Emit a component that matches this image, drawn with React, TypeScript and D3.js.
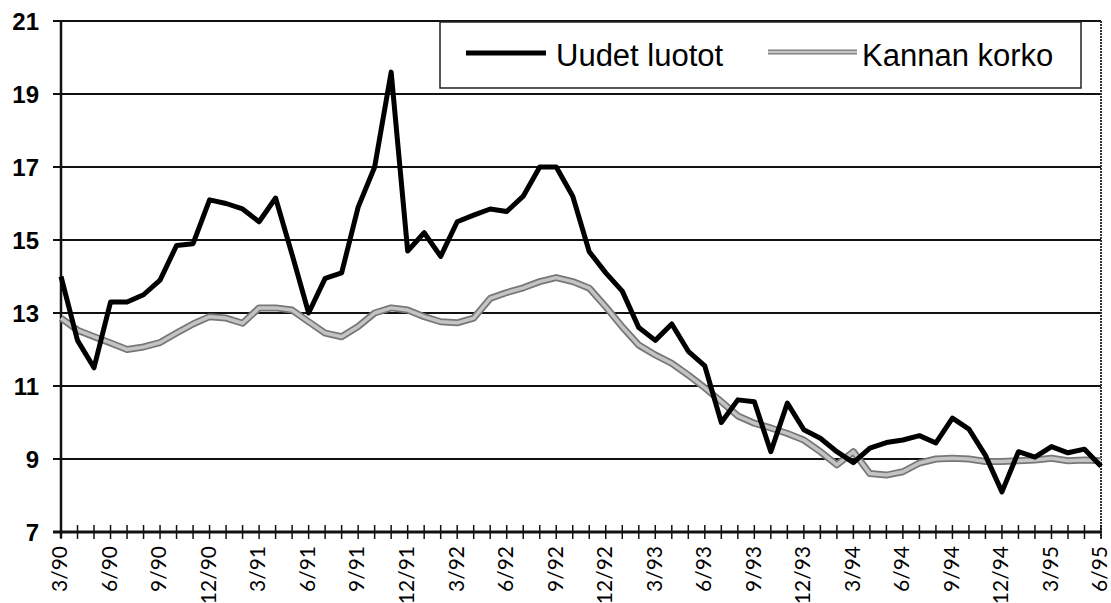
import React, { useRef, useEffect } from "react";
import * as d3 from "d3";

// months 3/90 .. 6/95
const months = [
  "3/90", "4/90", "5/90", "6/90", "7/90", "8/90", "9/90", "10/90", "11/90", "12/90",
  "1/91", "2/91", "3/91", "4/91", "5/91", "6/91", "7/91", "8/91", "9/91", "10/91", "11/91", "12/91",
  "1/92", "2/92", "3/92", "4/92", "5/92", "6/92", "7/92", "8/92", "9/92", "10/92", "11/92", "12/92",
  "1/93", "2/93", "3/93", "4/93", "5/93", "6/93", "7/93", "8/93", "9/93", "10/93", "11/93", "12/93",
  "1/94", "2/94", "3/94", "4/94", "5/94", "6/94", "7/94", "8/94", "9/94", "10/94", "11/94", "12/94",
  "1/95", "2/95", "3/95", "4/95", "5/95", "6/95",
];

const uudetLuotot = [
  14.0, 12.25, 11.5, 13.3, 13.3, 13.5, 13.9, 14.85, 14.9, 16.1,
  16.0, 15.85, 15.5, 16.15, 14.6, 13.0, 13.95, 14.1, 15.9, 17.0, 19.6, 14.7,
  15.2, 14.55, 15.5, 15.68, 15.85, 15.78, 16.2, 17.0, 17.0, 16.2, 14.68, 14.1,
  13.6, 12.6, 12.25, 12.7, 11.95, 11.55, 10.0, 10.62, 10.57, 9.2, 10.53, 9.8,
  9.57, 9.2, 8.9, 9.3, 9.45, 9.52, 9.64, 9.44, 10.12, 9.82, 9.1, 8.1,
  9.2, 9.05, 9.34, 9.17, 9.27, 8.8,
];

const kannanKorko = [
  12.86, 12.53, 12.35, 12.18, 12.0, 12.07, 12.19, 12.45, 12.7, 12.9,
  12.86, 12.72, 13.14, 13.14, 13.08, 12.76, 12.45, 12.35, 12.63, 13.0, 13.14, 13.08,
  12.9, 12.76, 12.73, 12.86, 13.4, 13.56, 13.69, 13.86, 13.97, 13.86, 13.68, 13.17,
  12.62, 12.12, 11.85, 11.62, 11.3, 10.95, 10.57, 10.18, 9.98, 9.85, 9.7, 9.52,
  9.2, 8.84, 9.2, 8.6, 8.56, 8.65, 8.89, 9.0, 9.02, 9.0, 8.93, 8.93,
  8.95, 8.97, 9.02, 8.95, 8.97, 8.95,
];

const yTicks = [7, 9, 11, 13, 15, 17, 19, 21];
const tickLabels = months.filter((_, i) => i % 3 === 0);

function Chart() {
  const svgRef = useRef<SVGSVGElement>(null);

  useEffect(() => {
    const svg = d3.select(svgRef.current);
    svg.selectAll("*").remove();

    const left = 61, right = 1101, top = 21, bottom = 532;

    const x = d3.scalePoint<string>().domain(months).range([left, right]);
    const y = d3.scaleLinear().domain([7, 21]).range([bottom, top]);

    // grid lines
    svg.append("g")
      .selectAll("line")
      .data(yTicks.filter((d) => d > 7))
      .enter()
      .append("line")
      .attr("x1", left - 8)
      .attr("x2", right)
      .attr("y1", (d) => y(d))
      .attr("y2", (d) => y(d))
      .style("stroke", "#111")
      .style("stroke-width", 2);

    // right border
    svg.append("line")
      .attr("x1", right).attr("x2", right)
      .attr("y1", top).attr("y2", bottom + 6)
      .style("stroke", "#333")
      .style("stroke-width", 2)
      .style("stroke-dasharray", "2 1");

    // y axis line
    svg.append("line")
      .attr("x1", left).attr("x2", left)
      .attr("y1", top).attr("y2", bottom + 6)
      .style("stroke", "#111")
      .style("stroke-width", 2.5);

    // y labels
    svg.append("g")
      .selectAll("text")
      .data(yTicks)
      .enter()
      .append("text")
      .attr("x", 39)
      .attr("y", (d) => y(d))
      .attr("dy", "0.36em")
      .attr("text-anchor", "end")
      .style("font-family", "Liberation Sans, Arial, sans-serif")
      .style("font-size", "24px")
      .style("font-weight", "bold")
      .text((d) => d);

    // x axis
    svg.append("line")
      .attr("x1", left - 8).attr("x2", right)
      .attr("y1", bottom).attr("y2", bottom)
      .style("stroke", "#111")
      .style("stroke-width", 3);

    svg.append("g")
      .selectAll("line")
      .data(months)
      .enter()
      .append("line")
      .attr("x1", (d) => x(d)!)
      .attr("x2", (d) => x(d)!)
      .attr("y1", bottom - 7)
      .attr("y2", bottom + 7)
      .style("stroke", "#111")
      .style("stroke-width", 1.5);

    svg.append("g")
      .selectAll("text")
      .data(tickLabels)
      .enter()
      .append("text")
      .attr("transform", (d) => `translate(${x(d)},546) rotate(-90)`)
      .attr("dy", "0.3em")
      .attr("text-anchor", "end")
      .style("font-family", "Lato, 'Open Sans', sans-serif")
      .style("font-size", "21px")
      .text((d) => d);

    const line = d3.line<number>()
      .x((_, i) => x(months[i])!)
      .y((d) => y(d));

    // Kannan korko (grey textured line)
    svg.append("path")
      .attr("d", line(kannanKorko))
      .style("fill", "none")
      .style("stroke", "#777")
      .style("stroke-width", 7)
      .style("stroke-linejoin", "round");
    svg.append("path")
      .attr("d", line(kannanKorko))
      .style("fill", "none")
      .style("stroke", "#c4c4c4")
      .style("stroke-width", 3.5)
      .style("stroke-linejoin", "round");

    // Uudet luotot
    svg.append("path")
      .attr("d", line(uudetLuotot))
      .style("fill", "none")
      .style("stroke", "#000")
      .style("stroke-width", 5)
      .style("stroke-linejoin", "round");

    // legend
    const lg = svg.append("g");
    lg.append("rect")
      .attr("x", 440).attr("y", 22)
      .attr("width", 641).attr("height", 66)
      .style("fill", "#fff")
      .style("stroke", "#222")
      .style("stroke-width", 1.5);
    lg.append("line")
      .attr("x1", 466).attr("x2", 546)
      .attr("y1", 53).attr("y2", 53)
      .style("stroke", "#000")
      .style("stroke-width", 5);
    lg.append("text")
      .attr("x", 556).attr("y", 66)
      .style("font-family", "Liberation Sans, Arial, sans-serif")
      .style("font-size", "31px")
      .text("Uudet luotot");
    lg.append("line")
      .attr("x1", 768).attr("x2", 857)
      .attr("y1", 52).attr("y2", 52)
      .style("stroke", "#777")
      .style("stroke-width", 5);
    lg.append("line")
      .attr("x1", 768).attr("x2", 857)
      .attr("y1", 52).attr("y2", 52)
      .style("stroke", "#c4c4c4")
      .style("stroke-width", 2.5);
    lg.append("text")
      .attr("x", 862).attr("y", 66)
      .style("font-family", "Liberation Sans, Arial, sans-serif")
      .style("font-size", "31px")
      .text("Kannan korko");
  }, []);

  return (
    <svg
      ref={svgRef}
      width={1111}
      height={603}
      style={{ position: "absolute", left: 0, top: 0, background: "#fff" }}
    />
  );
}

export default function App() {
  return <Chart />;
}
